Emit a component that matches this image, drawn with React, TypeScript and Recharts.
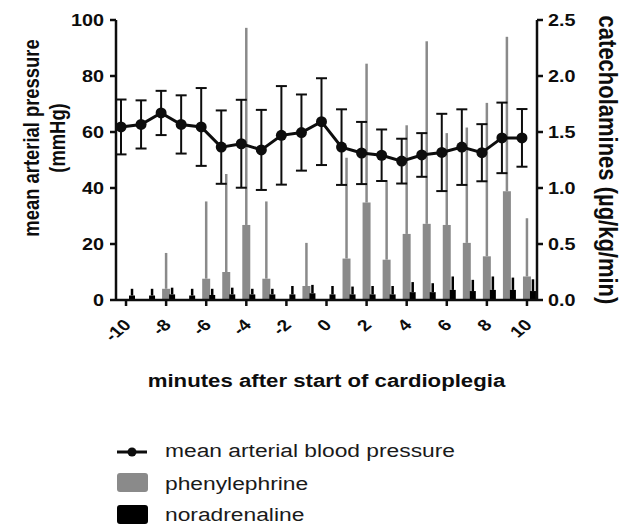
import React from 'react';
import { ComposedChart, XAxis, YAxis, Bar, Line, ErrorBar } from 'recharts';

// minutes relative to start of cardioplegia
const minutes = [-10, -9, -8, -7, -6, -5, -4, -3, -2, -1, 0, 1, 2, 3, 4, 5, 6, 7, 8, 9, 10];

// mean arterial pressure (mmHg), mean and SD
const mapMean = [61.8, 62.7, 66.8, 62.7, 61.8, 54.6, 55.8, 53.6, 58.8, 59.8, 63.7, 54.6, 52.5, 51.7, 49.6, 51.8, 52.7, 54.6, 52.6, 57.9, 57.9];
const mapSd = [9.8, 8.6, 7.9, 10.4, 13.9, 13.1, 15.7, 14.3, 17.6, 13.6, 15.5, 13.5, 11.1, 9.2, 8.0, 7.8, 13.8, 13.5, 10.2, 12.6, 10.3];

// phenylephrine (µg/kg/min), mean and upper SD
const phenylMean = [0, 0, 0.1, 0, 0.19, 0.25, 0.67, 0.19, 0, 0.125, 0, 0.37, 0.87, 0.36, 0.59, 0.68, 0.67, 0.51, 0.39, 0.97, 0.21];
const phenylSd = [0, 0, 0.32, 0, 0.69, 0.875, 1.76, 0.69, 0, 0.385, 0, 0.9, 1.24, 0.71, 0.97, 1.63, 0.82, 1.03, 1.37, 1.38, 0.52];

// noradrenaline (µg/kg/min), mean and upper SD
const noradMean = [0.04, 0.04, 0.05, 0.04, 0.045, 0.05, 0.05, 0.05, 0.05, 0.06, 0.05, 0.05, 0.05, 0.05, 0.07, 0.07, 0.09, 0.08, 0.09, 0.09, 0.08];
const noradSd = [0.06, 0.06, 0.06, 0.06, 0.055, 0.06, 0.05, 0.05, 0.075, 0.075, 0.075, 0.07, 0.075, 0.075, 0.09, 0.08, 0.12, 0.1, 0.12, 0.11, 0.105];

const pressureTicks = [0, 20, 40, 60, 80, 100];
const catecholTicks = [0, 0.5, 1, 1.5, 2, 2.5];

const rows = minutes.map((t, i) => ({
  t,
  map: mapMean[i],
  mapErr: mapSd[i],
  phenyl: phenylMean[i],
  phenylErr: [0, phenylSd[i]],
  norad: noradMean[i],
  noradErr: [0, noradSd[i]],
}));

const FONT = '"Liberation Sans", Arial, Helvetica, sans-serif';
const INK = '#0d0d0d';
const GREY = '#8a8a8a';
// the original figure is a bit wider than tall, so text is stretched sideways
const SX = 1.2;

const LeftTick = ({ x, y, payload }: any) => (
  <text
    transform={`translate(${x},${y}) scale(${SX},1)`}
    textAnchor="end"
    dy="0.36em"
    fontFamily={FONT}
    fontWeight="bold"
    fontSize={16.5}
    fill={INK}
  >
    {payload.value}
  </text>
);

const RightTick = ({ x, y, payload }: any) => (
  <text
    transform={`translate(${x},${y}) scale(${SX},1)`}
    textAnchor="start"
    dy="0.36em"
    fontFamily={FONT}
    fontWeight="bold"
    fontSize={16.5}
    fill={INK}
  >
    {Number(payload.value).toFixed(1)}
  </text>
);

const BottomTick = ({ x, y, payload }: any) => (
  <text
    transform={`translate(${x + 6},${y + 18}) scale(${SX},1) rotate(-45)`}
    textAnchor="end"
    fontFamily={FONT}
    fontWeight="bold"
    fontSize={16}
    fill={INK}
  >
    {payload.value}
  </text>
);

const LeftTitle = (props: any) => {
  const vb = props.viewBox;
  const cy = vb.y + 118;
  return (
    <g fontFamily={FONT} fontWeight="bold" fontSize={18.4} fill={INK}>
      <text transform={`translate(${vb.x + 31},${cy}) scale(${SX},1) rotate(-90)`} textAnchor="middle" dy="0.35em">
        mean arterial pressure
      </text>
      <text transform={`translate(${vb.x + 57},${cy}) scale(${SX},1) rotate(-90)`} textAnchor="middle" dy="0.35em">
        (mmHg)
      </text>
    </g>
  );
};

const RightTitle = (props: any) => {
  const vb = props.viewBox;
  return (
    <text
      transform={`translate(${vb.x + 71},${vb.y + 140}) scale(${SX},1) rotate(90)`}
      textAnchor="middle"
      dy="0.35em"
      fontFamily={FONT}
      fontWeight="bold"
      fontSize={22}
      fill={INK}
    >
      catecholamines (µg/kg/min)
    </text>
  );
};

const BottomTitle = (props: any) => {
  const vb = props.viewBox;
  return (
    <text
      transform={`translate(${vb.x + vb.width / 2},${vb.y + 87}) scale(${SX},1)`}
      textAnchor="middle"
      fontFamily={FONT}
      fontWeight="bold"
      fontSize={18.5}
      fill={INK}
    >
      minutes after start of cardioplegia
    </text>
  );
};

const axisStroke = { stroke: INK, strokeWidth: 2.5 };

const LegendBox = () => (
  <svg width={624} height={94} style={{ position: 'absolute', left: 0, top: 430 }}>
    <g fontFamily={FONT} fontSize={19} fill="#1a1a1a">
      <line x1={117} x2={147} y1={22} y2={22} stroke={INK} strokeWidth={3} />
      <circle cx={132} cy={22} r={4.5} fill={INK} />
      <text transform={`translate(165,27) scale(${SX},1)`}>mean arterial blood pressure</text>
      <rect x={117} y={43} width={31} height={19} rx={3} fill={GREY} />
      <text transform={`translate(165,60) scale(${SX},1)`}>phenylephrine</text>
      <rect x={117} y={75} width={31} height={19} rx={3} fill="#000" />
      <text transform={`translate(165,91) scale(${SX},1)`}>noradrenaline</text>
    </g>
  </svg>
);

export default function App() {
  return (
    <div style={{ position: 'absolute', left: 0, top: 0, width: 624, height: 524, overflow: 'hidden', background: '#fff' }}>
      <ComposedChart width={624} height={524} data={rows} margin={{ top: 20, right: 0, bottom: 0, left: 0 }}>
        <XAxis
          xAxisId="x"
          dataKey="t"
          type="category"
          height={224}
          interval={1}
          tickSize={6}
          tickMargin={2}
          tick={<BottomTick />}
          axisLine={axisStroke}
          tickLine={axisStroke}
          label={BottomTitle}
        />
        {/* hidden axes that put the line a bit left and noradrenaline a bit right of each tick */}
        <XAxis xAxisId="l" dataKey="t" type="number" domain={[-10.25, 10.75]} allowDataOverflow hide height={0} />
        <XAxis xAxisId="n" dataKey="t" type="number" domain={[-10.8, 10.2]} allowDataOverflow hide height={0} />
        <YAxis
          yAxisId="p"
          domain={[0, 100]}
          ticks={pressureTicks}
          interval={0}
          width={116}
          tickSize={6}
          tickMargin={6}
          tick={<LeftTick />}
          axisLine={axisStroke}
          tickLine={axisStroke}
          allowDataOverflow
          label={LeftTitle}
        />
        <YAxis
          yAxisId="c"
          orientation="right"
          domain={[0, 2.5]}
          ticks={catecholTicks}
          interval={0}
          width={87}
          tickSize={6}
          tickMargin={5}
          tick={<RightTick />}
          axisLine={axisStroke}
          tickLine={axisStroke}
          allowDataOverflow
          label={RightTitle}
        />
        <Bar xAxisId="x" yAxisId="c" dataKey="phenyl" fill={GREY} barSize={8} isAnimationActive={false}>
          <ErrorBar dataKey="phenylErr" direction="y" width={0} stroke={GREY} strokeWidth={2.5} />
        </Bar>
        <Bar xAxisId="n" yAxisId="c" dataKey="norad" fill="#000" barSize={6} isAnimationActive={false}>
          <ErrorBar dataKey="noradErr" direction="y" width={0} stroke="#000" strokeWidth={2.5} />
        </Bar>
        <Line
          xAxisId="l"
          yAxisId="p"
          type="linear"
          dataKey="map"
          stroke={INK}
          strokeWidth={3}
          dot={{ r: 5.5, fill: INK, stroke: INK, strokeWidth: 0 }}
          isAnimationActive={false}
        >
          <ErrorBar dataKey="mapErr" direction="y" width={5.5} stroke={INK} strokeWidth={2} />
        </Line>
      </ComposedChart>
      <LegendBox />
    </div>
  );
}
